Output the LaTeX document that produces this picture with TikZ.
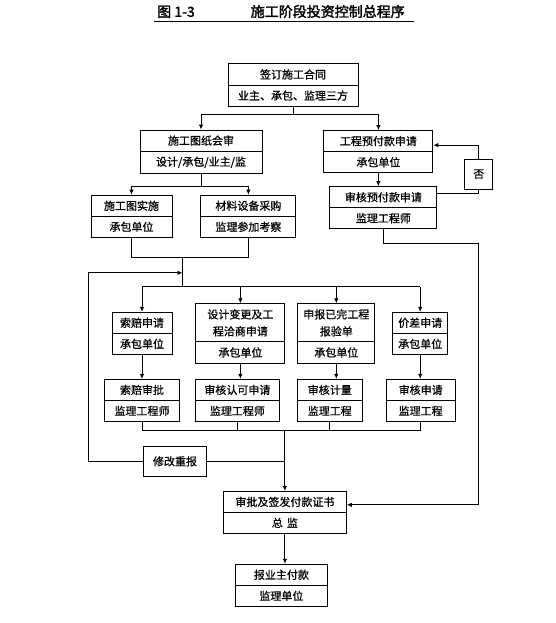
\documentclass[tikz,border=0pt]{standalone}
\usepackage{fontspec}
\setmainfont{Noto Sans CJK SC}[FakeBold=0.8]
\newfontfamily\titlefont{Noto Sans CJK SC}[FakeBold=2]
\usetikzlibrary{arrows.meta,positioning,shapes.multipart,calc}
\tikzset{
  twobox/.style={rectangle split, rectangle split parts=2, draw, line width=0.9pt, align=center, inner xsep=2pt, inner ysep=5pt, text width=#1, font=\fontsize{11}{17}\selectfont},
  onebox/.style={draw, line width=0.9pt, align=center, inner sep=2pt, font=\fontsize{11}{17}\selectfont},
  link/.style={line width=0.9pt},
  arrow/.style={-{Latex[length=5pt,width=4.5pt]}, line width=0.9pt}
}
\begin{document}
\begin{tikzpicture}[x=1pt, y=1pt]
  \useasboundingbox (0,0) rectangle (555,-623);
  \node[font=\titlefont\fontsize{14}{16}\selectfont, inner sep=1pt] (title) at (281,-11.5) {图 1-3\hspace{4em}施工阶段投资控制总程序};
  \draw[line width=1.2pt] ([xshift=-2pt,yshift=-2pt]title.south west) -- ([xshift=8pt,yshift=-2pt]title.south east);

  \node[twobox=126pt] (contract) at (293,-85) {签订施工合同 \nodepart{two} 业主、承包、监理三方};
  \node[twobox=118pt, below=23pt of contract, xshift=-92pt] (review) {施工图纸会审 \nodepart{two} 设计/承包/业主/监};
  \node[twobox=105pt, right=61pt of review] (advance) {工程预付款申请 \nodepart{two} 承包单位};
  \node[onebox, minimum width=28pt, minimum height=30pt, right=31pt of advance, yshift=-22.5pt] (no) {否};
  \node[twobox=77pt, below=21pt of review, xshift=-69.5pt] (build) {施工图实施 \nodepart{two} 承包单位};
  \node[twobox=91pt, right=28pt of build] (purchase) {材料设备采购 \nodepart{two} 监理参加考察};
  \node[twobox=103pt, below=13pt of advance, xshift=5pt] (advcheck) {审核预付款申请 \nodepart{two} 监理工程师};

  \node[twobox=56pt, below=74pt of build, xshift=10.5pt] (claimreq) {索赔申请 \nodepart{two} 承包单位};
  \node[twobox=85pt, right=23pt of claimreq] (change) {设计变更及工\\程洽商申请 \nodepart{two} 承包单位};
  \node[twobox=73pt, right=12pt of change] (done) {申报已完工程\\报验单 \nodepart{two} 承包单位};
  \node[twobox=51pt, right=17pt of done] (pricereq) {价差申请 \nodepart{two} 承包单位};

  \node[twobox=71pt, below=24pt of claimreq] (claimchk) {索赔审批 \nodepart{two} 监理工程师};
  \node[twobox=80pt, right=15pt of claimchk] (approve) {审核认可申请 \nodepart{two} 监理工程师};
  \node[twobox=61pt, right=17pt of approve] (measure) {审核计量 \nodepart{two} 监理工程};
  \node[twobox=65pt, right=23pt of measure] (pricechk) {审核申请 \nodepart{two} 监理工程};

  \node[onebox, minimum width=63pt, minimum height=30pt, below=24pt of claimchk, xshift=33pt] (redo) {修改重报};
  \node[twobox=119pt, below=69pt of approve, xshift=47.5pt] (payment) {审批及签发付款证书 \nodepart{two} 总\hspace{4pt}监};
  \node[twobox=88pt, below=30pt of payment, xshift=-3.5pt] (final) {报业主付款 \nodepart{two} 监理单位};

  % contract splits into two branches
  \coordinate (fork) at ([yshift=-8pt]contract.south);
  \draw[link] (contract.south) -- (fork);
  \draw[arrow] (fork) -| (review.north);
  \draw[arrow] (fork) -| (advance.north);

  \coordinate (fork2) at ([yshift=-13pt]review.south);
  \draw[link] (review.south) -- (fork2);
  \draw[arrow] (fork2) -| (build.north);
  \draw[arrow] (fork2) -| (purchase.north);

  % advance payment check and rejection loop
  \draw[arrow] (advance.south) -- (advance.south |- advcheck.north);
  \coordinate (retin) at ([yshift=-15pt]advance.north east);
  \draw[arrow] (no.north) |- (retin);
  \draw[link] (no.south) |- ([yshift=-7pt]advcheck.north east);
  \coordinate (payin) at ([yshift=-14pt]payment.north east);
  \draw[arrow] (advcheck.south) -- ++(0,-14pt) -| (no.south |- payin) -- (payin);

  % merge into the four requests
  \coordinate (join) at ([xshift=51pt,yshift=-20pt]build.south);
  \draw[link] (build.south) |- (join) -| (purchase.south);
  \coordinate (fan) at ([yshift=-29pt]join);
  \draw[link] (join) -- (fan);
  \draw[link] (claimreq.north |- fan) -- (pricereq.north |- fan);
  \foreach \n in {claimreq,change,done,pricereq}
    \draw[arrow] (\n.north |- fan) -- (\n.north);

  \foreach \a/\b in {claimreq/claimchk,change/approve,done/measure,pricereq/pricechk}
    \draw[arrow] (\a.south) -- (\a.south |- \b.north);

  \coordinate (collect) at ([yshift=-9pt]claimchk.south);
  \foreach \n in {claimchk,approve,measure,pricechk}
    \draw[link] (\n.south) -- (\n.south |- collect);
  \draw[link] (claimchk.south |- collect) -- (pricechk.south |- collect);
  \draw[arrow] (collect -| payment.north) -- (payment.north);

  % resubmission loop
  \draw[link] (redo.east) -- (redo.east -| payment.north);
  \coordinate (reentry) at ([yshift=-15pt]join);
  \draw[arrow] (redo.west) -- ++(-55pt,0) |- (reentry);

  \draw[arrow] (payment.south) -- (payment.south |- final.north);
\end{tikzpicture}
\end{document}
